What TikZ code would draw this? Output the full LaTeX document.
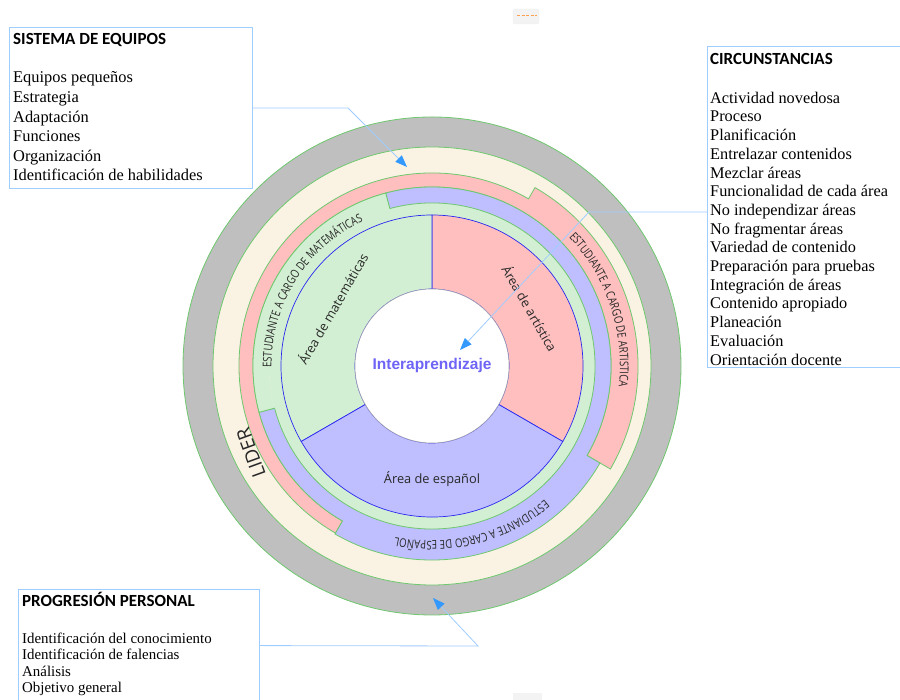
\documentclass[tikz,border=0pt]{standalone}
\usepackage{fontspec}
\setmainfont{Liberation Serif}
\newfontfamily\titlefont{Carlito}
\newfontfamily\osans{Open Sans}
\newfontfamily\osnarrow[FakeStretch=0.8]{Open Sans}
\newfontfamily\arialf{Liberation Sans}
\usetikzlibrary{arrows.meta,decorations.text}
\definecolor{graybg}{RGB}{191,191,191}
\definecolor{creamc}{RGB}{250,243,228}
\definecolor{pinkc}{RGB}{255,191,191}
\definecolor{lavc}{RGB}{191,191,255}
\definecolor{lgreen}{RGB}{211,239,211}
\definecolor{ringgreen}{RGB}{110,200,110}
\definecolor{areablue}{RGB}{40,40,240}
\definecolor{boxblue}{RGB}{160,205,255}
\definecolor{arrowblue}{RGB}{51,153,255}
\definecolor{centerblue}{RGB}{110,100,245}
\definecolor{txtdark}{RGB}{40,40,40}
\definecolor{artifact}{RGB}{243,243,243}
\definecolor{dashorange}{RGB}{255,160,80}
\tikzset{
  ringline/.style={draw=ringgreen, line width=0.8},
  arealine/.style={draw=areablue, line width=0.7},
  boxst/.style={draw=boxblue, line width=0.8, inner sep=0, anchor=south west},
  titlest/.style={font=\titlefont\bfseries\fontsize{17}{20}\selectfont, inner sep=0, anchor=base west},
  itemst/.style={inner sep=0, anchor=base west},
  conn/.style={draw=boxblue, line width=0.8, -{Triangle[length=12pt,width=9pt,color=arrowblue]}},
  arealabel/.style={font=\osans\fontsize{12.8}{14}\selectfont, text=txtdark, inner sep=0},
  curvetext/.style={decorate, decoration={text along path, text align=center, text color=txtdark}}
}
\begin{document}
\begin{tikzpicture}[x=1pt,y=1pt]
\useasboundingbox (0,0) rectangle (900,700);
\begin{scope}[shift={(432,334)}]
  % outer rings
  \filldraw[fill=graybg, ringline] (0,0) circle[radius=249];
  \filldraw[fill=creamc, ringline] (0,0) circle[radius=219];
  \fill[lgreen] (0,0) circle[radius=163];
  % artistic student band
  \filldraw[fill=pinkc, ringline] (-30:179) -- (-30:206) arc[start angle=-30,end angle=60,radius=206]
     -- (60:193) arc[start angle=60,end angle=240,radius=193]
     -- (240:179) arc[start angle=240,end angle=-30,radius=179] -- cycle;
  % spanish student band
  \filldraw[fill=lavc, ringline] (195:163) -- (195:179) arc[start angle=195,end angle=240,radius=179]
     -- (240:194) arc[start angle=240,end angle=330,radius=194]
     -- (330:179) arc[start angle=330,end angle=465,radius=179]
     -- (465:163) arc[start angle=465,end angle=195,radius=163] -- cycle;
  % math student band
  \fill[lgreen] (105:163) -- (105:179) arc[start angle=105,end angle=195,radius=179]
     -- (195:163) arc[start angle=195,end angle=105,radius=163] -- cycle;
  \draw[ringline] (105:163) -- (105:179) arc[start angle=105,end angle=195,radius=179] -- (195:163);
  % area sectors
  \filldraw[fill=pinkc, arealine] (-30:77) -- (-30:151) arc[start angle=-30,end angle=90,radius=151]
     -- (90:77) arc[start angle=90,end angle=-30,radius=77] -- cycle;
  \filldraw[fill=lgreen, arealine] (90:77) -- (90:151) arc[start angle=90,end angle=210,radius=151]
     -- (210:77) arc[start angle=210,end angle=90,radius=77] -- cycle;
  \filldraw[fill=lavc, arealine] (210:77) -- (210:151) arc[start angle=210,end angle=330,radius=151]
     -- (330:77) arc[start angle=330,end angle=210,radius=77] -- cycle;
  \filldraw[fill=white, draw=gray!70, line width=0.5] (0,0) circle[radius=77];
  % curved labels
  \path[curvetext, decoration={text={|\osnarrow\fontsize{12}{14}\selectfont|ESTUDIANTE A CARGO DE MATEMÁTICAS}}]
     (214:160.5) arc[start angle=214,end angle=82,radius=160.5];
  \path[curvetext, decoration={text={|\osnarrow\fontsize{12}{14}\selectfont|ESTUDIANTE A CARGO DE ARTISTICA}}]
     (70:188) arc[start angle=70,end angle=-33,radius=188];
  \path[curvetext, decoration={text={|\osnarrow\fontsize{12}{14}\selectfont|ESTUDIANTE A CARGO DE ESPAÑOL}}]
     (-20:175) arc[start angle=-20,end angle=-132,radius=175];
  % text labels
  \node[font=\osans\fontsize{19}{21}\selectfont, text=txtdark, rotate=110, inner sep=0] (lider) at (205.7:201) {LIDER};
  \node[arealabel, rotate=-60] (art) at (30.5:114) {Área de artística};
  \node[arealabel, rotate=60] (mat) at (150:115) {Área de matemáticas};
  \node[arealabel] (esp) at (270:113) {Área de español};
  \node[font=\arialf\bfseries\fontsize{15.5}{18}\selectfont, text=centerblue, inner sep=0] (center) at (0,0) {Interaprendizaje};
\end{scope}

% box 1
\node[boxst, minimum width=243, minimum height=161] (b1) at (9,511) {};
\node[titlest] (b1title) at (13,655) {SISTEMA DE EQUIPOS};
\foreach \t [count=\i] in {Equipos pequeños,Estrategia,Adaptación,Funciones,Organización,Identificación de habilidades}
  \node[itemst, font=\fontsize{16.4}{19}\selectfont] (b1i\i) at (13,{617-(\i-1)*19.6}) {\t};

% box 2
\node[boxst, minimum width=196, minimum height=321] (b2) at (707,332) {};
\node[titlest] (b2title) at (710,635) {CIRCUNSTANCIAS};
\foreach \t [count=\i] in {Actividad novedosa,Proceso,Planificación,Entrelazar contenidos,Mezclar áreas,Funcionalidad de cada área,No independizar áreas,No fragmentar áreas,Variedad de contenido,Preparación para pruebas,Integración de áreas,Contenido apropiado,Planeación,Evaluación,Orientación docente}
  \node[itemst, font=\fontsize{16.3}{19}\selectfont] (b2i\i) at (710,{596.7-(\i-1)*18.7}) {\t};

% box 3
\node[boxst, minimum width=241, minimum height=112] (b3) at (18,-2) {};
\node[titlest] (b3title) at (22,93.3) {PROGRESIÓN PERSONAL};
\foreach \t [count=\i] in {Identificación del conocimiento,Identificación de falencias,Análisis,Objetivo general}
  \node[itemst, font=\fontsize{14.9}{17}\selectfont] (b3i\i) at (22,{56.7-(\i-1)*16.5}) {\t};

% connectors
\coordinate (k1) at (348,592);
\coordinate (t1) at (407,533);
\draw[conn] (b1.east) -- (k1) -- (t1);
\coordinate (k2) at (589,488);
\coordinate (t2) at (460,350);
\draw[conn] (b2.west |- k2) -- (k2) -- (t2);
\coordinate (k3) at (478,54);
\coordinate (t3) at (433,102);
\draw[conn] (b3.east) -- (k3) -- (t3);

% small interface marks
\filldraw[fill=artifact, draw=gray!12, rounded corners=2] (513,676) rectangle (539,691);
\draw[dashorange, line width=1.4, dash pattern=on 3pt off 1.5pt] (517,684.3) -- (537,684.3);
\fill[artifact] (513,0) rectangle (542,7);
\end{tikzpicture}
\end{document}
